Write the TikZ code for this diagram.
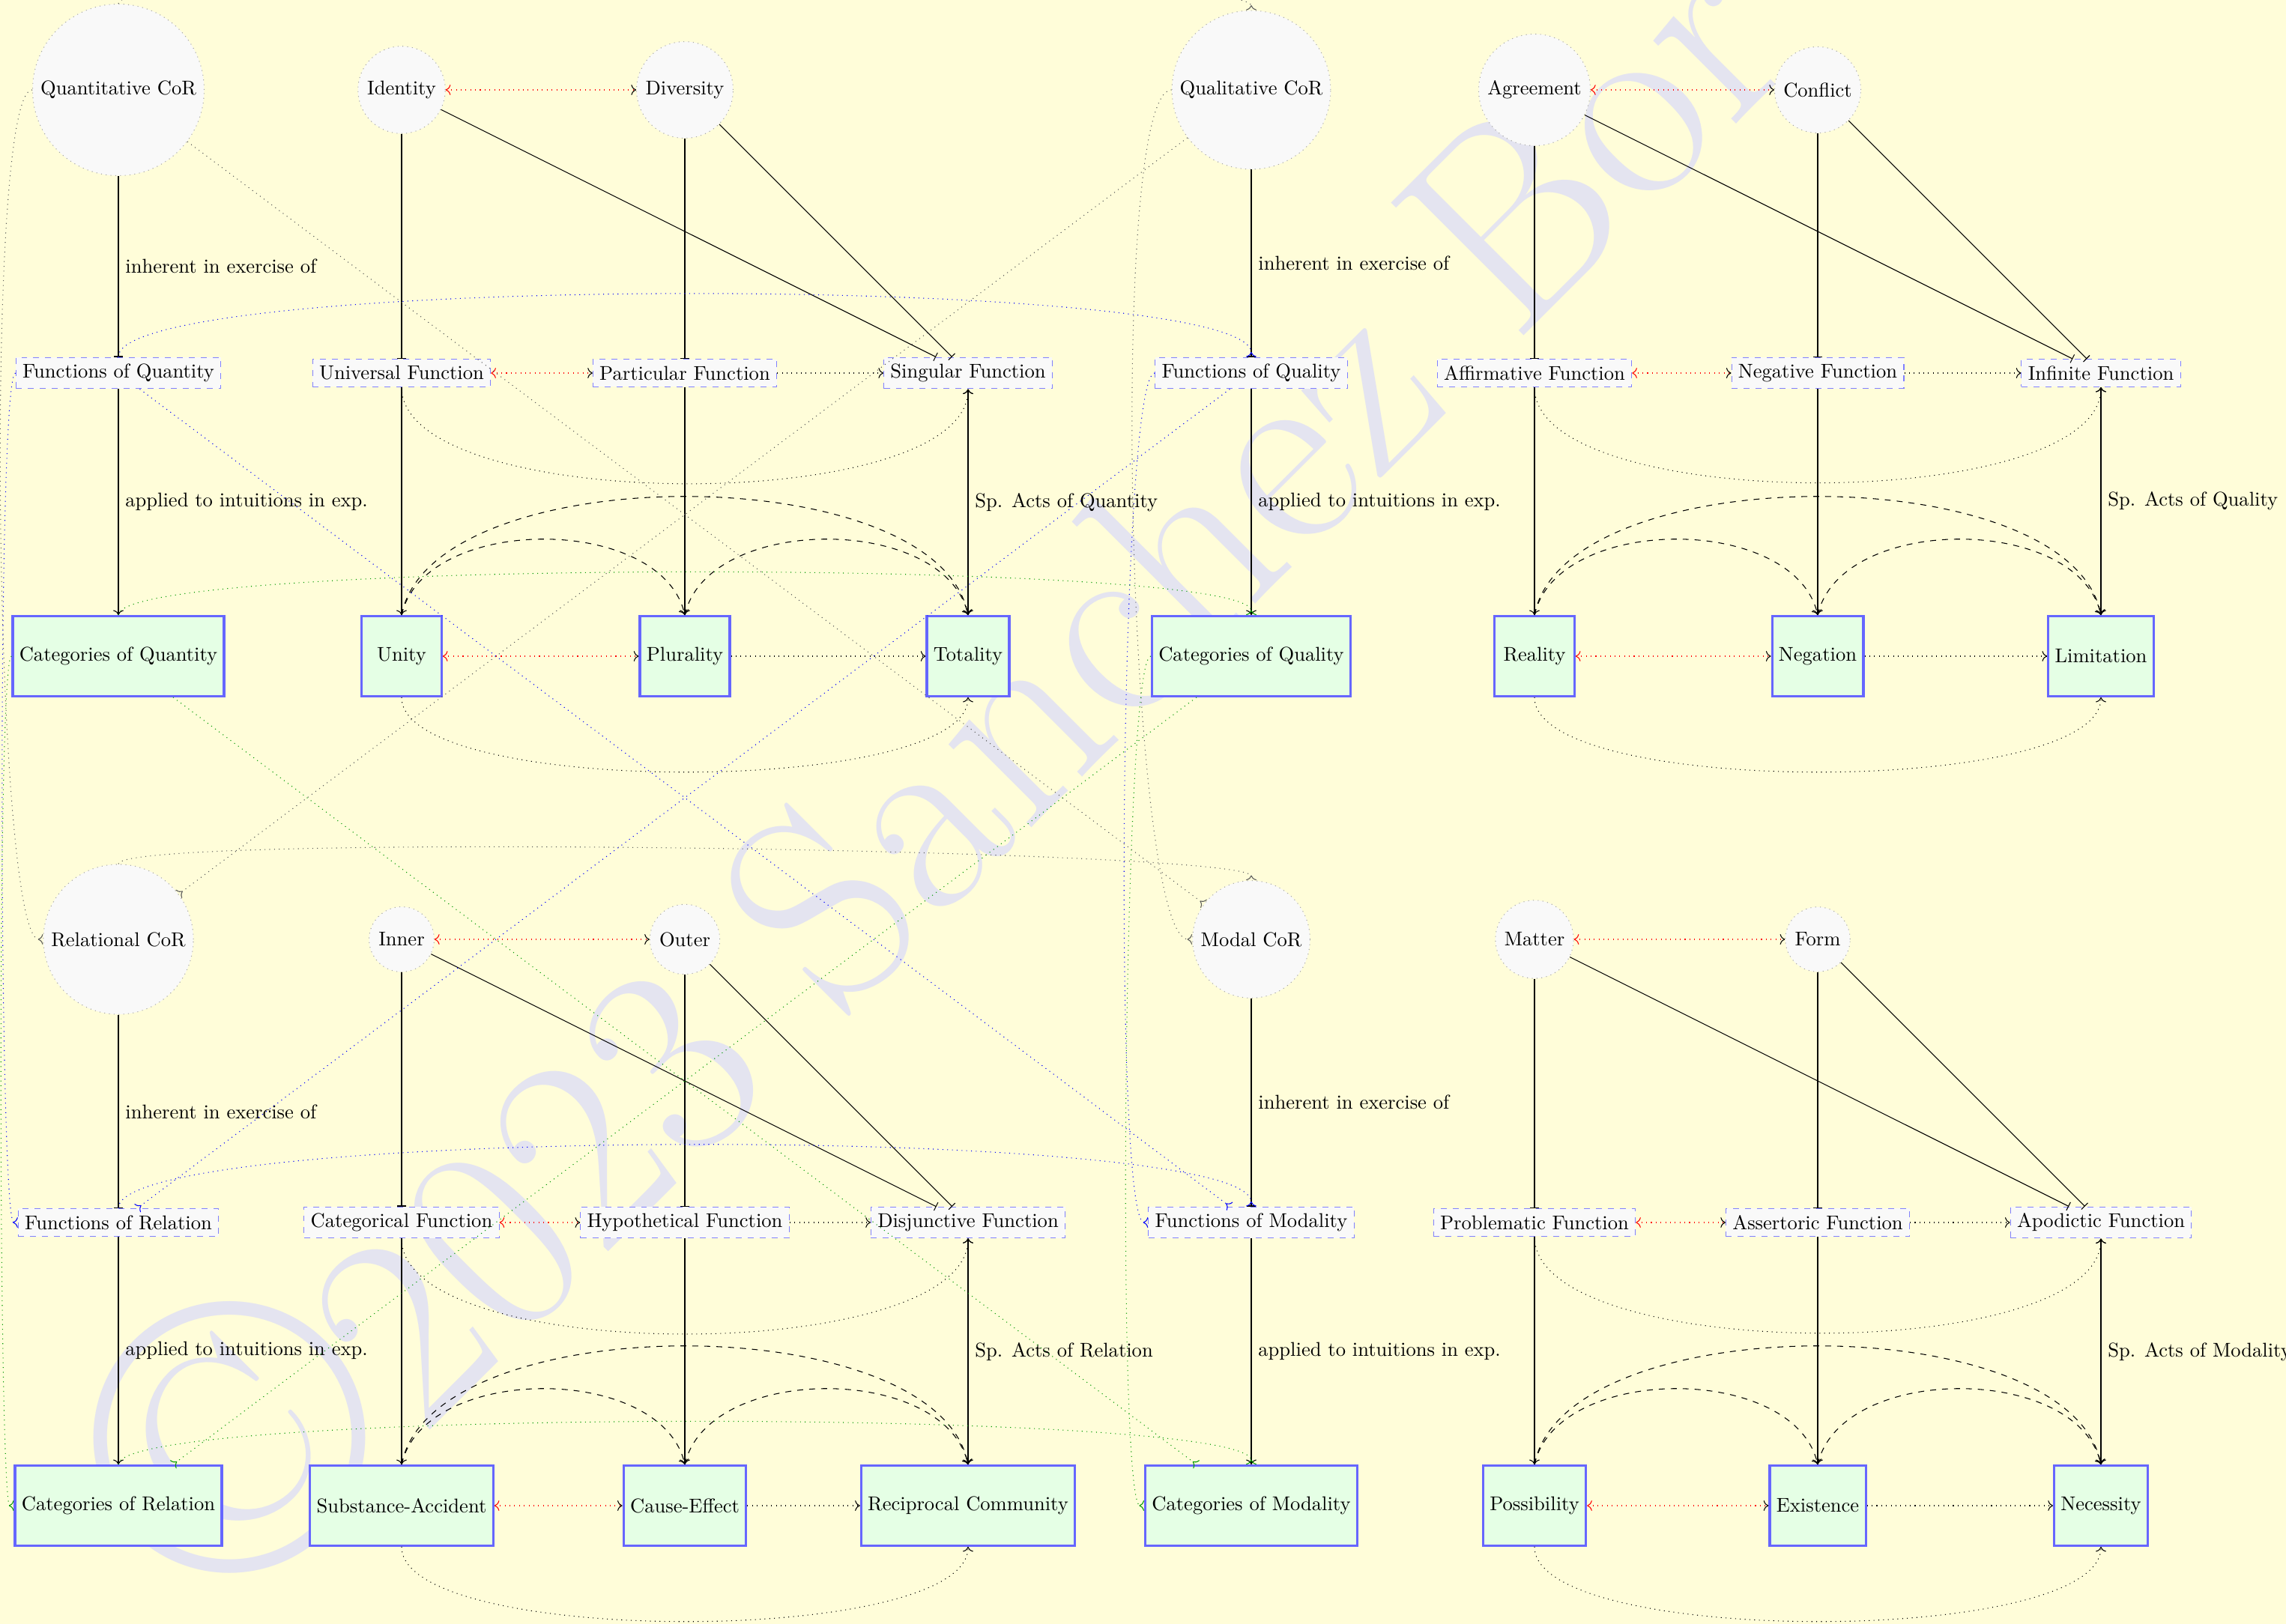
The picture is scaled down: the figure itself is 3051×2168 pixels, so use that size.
\documentclass[tikz,border=0pt]{standalone}
\usetikzlibrary{arrows.meta}
\definecolor{wmc}{RGB}{228,228,240}
\newcommand\kantblock[2]{%
  \draw[-|] (#1c) -- node[lbl] (#1t1) {inherent in exercise of} (#1f);
  \draw[->] (#1f) -- node[lbl] (#1t2) {applied to intuitions in exp.} (#1k);
  \draw[-|] (#1a) -- (#1f1);
  \draw[-|] (#1b) -- (#1f2);
  \draw[-|] (#1a) -- (#1f3);
  \draw[-|] (#1b) -- (#1f3);
  \draw[rel] (#1a) -- (#1b);
  \draw[rel] (#1f1) -- (#1f2);
  \draw[seq] (#1f2) -- (#1f3);
  \draw[->] (#1f1) -- (#1k1);
  \draw[->] (#1f2) -- (#1k2);
  \draw[<->] (#1f3) -- node[lbl] (#1t3) {#2} (#1k3);
  \draw[rel] (#1k1) -- (#1k2);
  \draw[seq] (#1k2) -- (#1k3);
  \draw[seq] (#1f1.south) .. controls +(0,170) and +(0,170) .. (#1f3.south);
  \draw[seq] (#1k1.south) .. controls +(0,133) and +(0,133) .. (#1k3.south);
  \draw[dsh] (#1k1.north) .. controls +(30,-135) and +(-30,-135) .. (#1k2.north);
  \draw[dsh] (#1k2.north) .. controls +(30,-135) and +(-30,-135) .. (#1k3.north);
  \draw[dsh] (#1k1.north) .. controls +(40,-211) and +(-40,-211) .. (#1k3.north);
}
\begin{document}
\begin{tikzpicture}[x=0.0132275cm, y=-0.0132275cm,
  cor/.style={circle, draw=gray!70, dotted, fill=gray!5},
  fun/.style={rectangle, draw=blue!50, dashed, fill=gray!5},
  cat/.style={rectangle, draw=blue!60, very thick, fill=green!10, minimum size=1.41cm},
  lbl/.style={midway, right},
  rel/.style={dotted, red, {To[red]}-{To[black]}},
  seq/.style={dotted, ->},
  dsh/.style={dashed, ->},
  xc/.style={dotted, black!65, -<},
  xf/.style={dotted, blue, -<},
  xk/.style={dotted, green!60!black, -<}]
\useasboundingbox (0,0) rectangle (3051,2168);
\fill[yellow!15] (0,0) rectangle (3051,2168);
% watermark
\node[rotate=45, anchor=west, inner sep=0, text=wmc,
      font=\fontsize{138}{160}\selectfont] (wm) at (180,2050)
      {{\fontsize{200}{200}\selectfont\copyright}2023 Sanchez Bor};
% ---- Quantity
\node[cor] (qc) at (158,120) {Quantitative CoR};
\node[cor] (qa) at (536,120) {Identity};
\node[cor] (qb) at (914,120) {Diversity};
\node[fun] (qf) at (158,498) {Functions of Quantity};
\node[fun] (qf1) at (536,498) {Universal Function};
\node[fun] (qf2) at (914,498) {Particular Function};
\node[fun] (qf3) at (1292,498) {Singular Function};
\node[cat] (qk) at (158,876) {Categories of Quantity};
\node[cat] (qk1) at (536,876) {Unity};
\node[cat] (qk2) at (914,876) {Plurality};
\node[cat] (qk3) at (1292,876) {Totality};
% ---- Quality
\node[cor] (lc) at (1670,120) {Qualitative CoR};
\node[cor] (la) at (2048,120) {Agreement};
\node[cor] (lb) at (2426,120) {Conflict};
\node[fun] (lf) at (1670,498) {Functions of Quality};
\node[fun] (lf1) at (2048,498) {Affirmative Function};
\node[fun] (lf2) at (2426,498) {Negative Function};
\node[fun] (lf3) at (2804,498) {Infinite Function};
\node[cat] (lk) at (1670,876) {Categories of Quality};
\node[cat] (lk1) at (2048,876) {Reality};
\node[cat] (lk2) at (2426,876) {Negation};
\node[cat] (lk3) at (2804,876) {Limitation};
% ---- Relation
\node[cor] (rc) at (158,1254) {Relational CoR};
\node[cor] (ra) at (536,1254) {Inner};
\node[cor] (rb) at (914,1254) {Outer};
\node[fun] (rf) at (158,1632) {Functions of Relation};
\node[fun] (rf1) at (536,1632) {Categorical Function};
\node[fun] (rf2) at (914,1632) {Hypothetical Function};
\node[fun] (rf3) at (1292,1632) {Disjunctive Function};
\node[cat] (rk) at (158,2010) {Categories of Relation};
\node[cat] (rk1) at (536,2010) {Substance-Accident};
\node[cat] (rk2) at (914,2010) {Cause-Effect};
\node[cat] (rk3) at (1292,2010) {Reciprocal Community};
% ---- Modality
\node[cor] (mc) at (1670,1254) {Modal CoR};
\node[cor] (ma) at (2048,1254) {Matter};
\node[cor] (mb) at (2426,1254) {Form};
\node[fun] (mf) at (1670,1632) {Functions of Modality};
\node[fun] (mf1) at (2048,1632) {Problematic Function};
\node[fun] (mf2) at (2426,1632) {Assertoric Function};
\node[fun] (mf3) at (2804,1632) {Apodictic Function};
\node[cat] (mk) at (1670,2010) {Categories of Modality};
\node[cat] (mk1) at (2048,2010) {Possibility};
\node[cat] (mk2) at (2426,2010) {Existence};
\node[cat] (mk3) at (2804,2010) {Necessity};
% ---- block edges
\kantblock{q}{Sp. Acts of Quantity}
\kantblock{l}{Sp. Acts of Quality}
\kantblock{r}{Sp. Acts of Relation}
\kantblock{m}{Sp. Acts of Modality}
% ---- cross edges: CoR level
\draw[xc] (qc.north) .. controls +(0,-55) and +(0,-55) .. (lc.north);
\draw[xc] (rc.north) .. controls +(0,-42) and +(0,-42) .. (mc.north);
\draw[xc] (qc.west) .. controls +(-65,0) and +(-65,0) .. (rc.west);
\draw[xc] (lc.west) .. controls +(-86,0) and +(-86,0) .. (mc.west);
\draw[xc] (qc) -- (mc);
\draw[xc] (lc) -- (rc);
% ---- cross edges: function level
\draw[xf] (qf.north) .. controls +(0,-112) and +(0,-112) .. (lf.north);
\draw[xf] (rf.north) .. controls +(0,-111) and +(0,-111) .. (mf.north);
\draw[xf] (qf.west) .. controls +(-25,0) and +(-25,0) .. (rf.west);
\draw[xf] (lf.west) .. controls +(-47,0) and +(-47,0) .. (mf.west);
\draw[xf] (qf) -- (mf);
\draw[xf] (lf) -- (rf);
% ---- cross edges: category level
\draw[xk] (qk.north) .. controls +(0,-76) and +(0,-76) .. (lk.north);
\draw[xk] (rk.north) .. controls +(0,-76) and +(0,-76) .. (mk.north);
\draw[xk] (qk.west) .. controls +(-20,0) and +(-20,0) .. (rk.west);
\draw[xk] (lk.west) .. controls +(-37,0) and +(-37,0) .. (mk.west);
\draw[xk] (qk) -- (mk);
\draw[xk] (lk) -- (rk);
\end{tikzpicture}
\end{document}
